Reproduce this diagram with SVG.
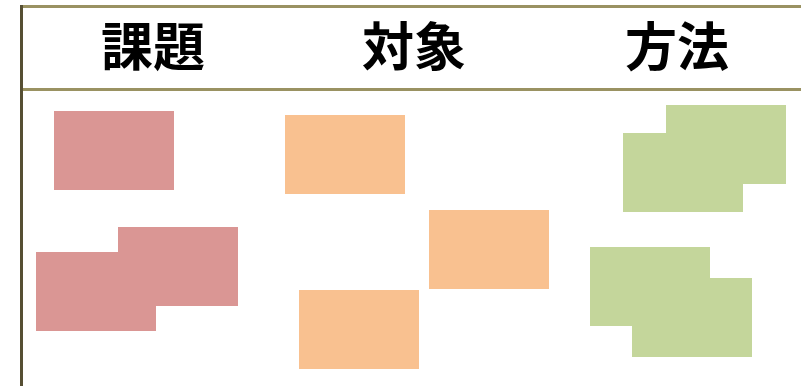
<svg xmlns="http://www.w3.org/2000/svg" width="801" height="386" viewBox="0 0 801 386">
<style>
.h{font-family:"Noto Sans CJK JP","Noto Sans CJK SC",sans-serif;font-weight:700;font-size:52px;fill:#000;text-anchor:middle}
.red{fill:#da9694}
.org{fill:#f9c190}
.grn{fill:#c4d69b}
.hl{stroke:#9a9262;stroke-width:3}
.vl{stroke:#564f33;stroke-width:3}
</style>
<rect width="801" height="386" fill="#fff"/>
<g id="frame">
<line class="hl" x1="20" y1="6.5" x2="801" y2="6.5"/>
<line class="hl" x1="20" y1="89.5" x2="801" y2="89.5"/>
<line class="vl" x1="21.5" y1="5" x2="21.5" y2="386"/>
</g>
<g id="headers">
<text class="h" x="153" y="66">課題</text>
<text class="h" x="414" y="66">対象</text>
<text class="h" x="677" y="66">方法</text>
</g>
<g id="issues">
<rect id="r1" class="red" x="54" y="111" width="120" height="79"/>
<rect id="r2" class="red" x="118" y="227" width="120" height="79"/>
<rect id="r3" class="red" x="36" y="252" width="120" height="79"/>
</g>
<g id="targets">
<rect id="o1" class="org" x="285" y="115" width="120" height="79"/>
<rect id="o2" class="org" x="429" y="210" width="120" height="79"/>
<rect id="o3" class="org" x="299" y="290" width="120" height="79"/>
</g>
<g id="methods">
<rect id="g1" class="grn" x="666" y="105" width="120" height="79"/>
<rect id="g2" class="grn" x="623" y="133" width="120" height="79"/>
<rect id="g3" class="grn" x="590" y="247" width="120" height="79"/>
<rect id="g4" class="grn" x="632" y="278" width="120" height="79"/>
</g>
<g id="connectors"/>
</svg>
